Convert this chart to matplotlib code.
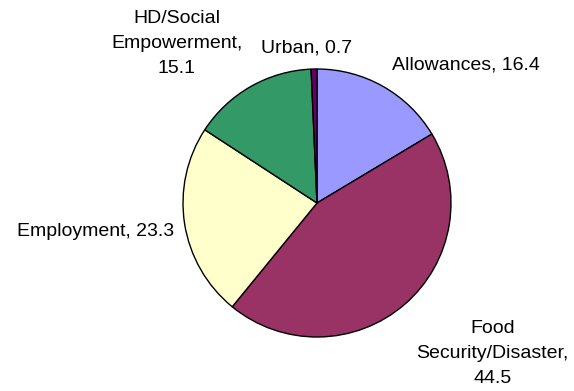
import matplotlib
matplotlib.use('Agg')
import matplotlib.pyplot as plt

# Values
labels = ['Allowances', 'Food\nSecurity/Disaster,', 'Employment', 'HD/Social\nEmpowerment,', 'Urban']
values = [16.4, 44.5, 23.3, 15.1, 0.7]
colors = ['#9999FF', '#993366', '#FFFFCC', '#339966', '#660066']

# label anchor points (pie radius = 1)
label_pos = [(1.11, 1.03), (1.31, -1.12), (-1.65, -0.21), (-1.045, 1.19), (-0.075, 1.16)]


def label_text(name, v):
    if name.endswith(','):
        return f"{name}\n{v}"
    return f"{name}, {v}"


def main():
    plt.rcParams['font.family'] = ['Liberation Sans', 'DejaVu Sans']
    fig = plt.figure(figsize=(5.74, 3.91), dpi=100)
    ax = fig.add_axes([0, 0, 1, 1])

    ax.pie(values, colors=colors, startangle=90, counterclock=False,
           radius=1.0, center=(0, 0),
           wedgeprops=dict(edgecolor='black', linewidth=1.0))

    for name, v, (x, y) in zip(labels, values, label_pos):
        ax.text(x, y, label_text(name, v), ha='center', va='center',
                fontsize=14, linespacing=1.62, color='black')

    # pixel layout: centre at (317, 203), radius 134 px
    ax.set_xlim(-317 / 134, (574 - 317) / 134)
    ax.set_ylim(-(391 - 203) / 134, 203 / 134)
    ax.set_aspect('equal')
    ax.axis('off')

    fig.savefig('out.png', dpi=100, facecolor='white')


if __name__ == "__main__":
    main()
